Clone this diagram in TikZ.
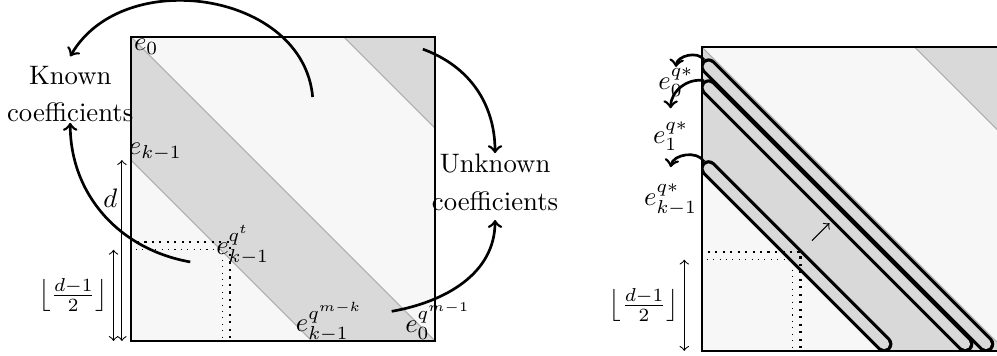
\documentclass[tikz,border=0pt]{standalone}
\usepackage{tikz}
\definecolor{bglight}{gray}{0.97}
\definecolor{bandgray}{gray}{0.85}
\definecolor{edgegray}{gray}{0.68}
\tikzset{
    bigarrow/.style={->, line width=1pt},
    smallarrow/.style={->, line width=1pt},
    strip/.style={double=bandgray, double distance=3.8pt, line width=1.2pt, line cap=round},
    thickdots/.style={thick, dotted},
    thindots/.style={dotted},
    qlabel/.style={inner sep=0pt},
}

\begin{document}
\begin{tikzpicture}
    \useasboundingbox (-1.724,-0.197) rectangle (11.395,4.487);
    \clip (-1.724,-0.197) rectangle (11.395,4.487);
    \foreach \sx/\sy in {0/0, 7.51/-0.13} {
        \begin{scope}[shift={(\sx,\sy)}]
            \fill[bglight] (0,0) rectangle (4,4);
            \fill[bandgray] (0,4) -- (4,0) -- (2.38,0) -- (0,2.38) -- cycle;
            \fill[bandgray] (2.8,4) -- (4,4) -- (4,2.8) -- cycle;
            \draw[edgegray] (0,4) -- (4,0);
            \draw[edgegray] (0,2.38) -- (2.38,0);
            \draw[edgegray] (2.8,4) -- (4,2.8);
        \end{scope}
    }
    \begin{scope}[shift={(7.51,-0.13)}]
        \clip (0,0) rectangle (4,4);
        \foreach \off/\n in {3.83/1, 3.555/2, 2.49/3} {
            \draw[strip] (0.09,\off-0.09) -- (\off-0.09,0.09);
            \coordinate (cap\n) at (0.03,\off);
        }
    \end{scope}
    \foreach \sx/\sy/\m in {0/0/L, 7.51/-0.13/R} {
        \begin{scope}[shift={(\sx,\sy)}]
            \draw[semithick] (0,0) rectangle (4,4);
            \draw[thindots] (0,0) rectangle (1.2,1.2);
            \draw[thickdots] (0,0) rectangle (1.3,1.3);
            \coordinate (flbot\m) at (-0.23,0);
            \coordinate (fltop\m) at (-0.23,1.2);
            \draw[<->] (flbot\m) -- (fltop\m);
            \node (floor\m) at (-0.76,0.6) {$\bigl\lfloor\frac{d-1}{2}\bigr\rfloor$};
        \end{scope}
    }
    \coordinate (dbot) at (-0.12,0);
    \coordinate (dtop) at (-0.12,2.38);
    \draw[<->] (dbot) -- (dtop) node[pos=0.79, left, inner sep=1.5pt] (dlab) {$d$};
    \node (e0) at (0.2,3.87) {$e_0$};
    \node (ek) at (0.32,2.49) {$e_{k-1}$};
    \node (eqt) at (1.47,1.26) {$e^{q^t}_{k-1}$};
    \node (eqmk) at (2.61,0.25) {$e^{q^{m-k}}_{k-1}$};
    \node (eqm) at (4.04,0.26) {$e^{q^{m-1}}_0$};
    \node[align=center] (known) at (-0.8,3.25) {Known\\[2.2pt]coefficients};
    \node[align=center] (unknown) at (4.79,2.09) {Unknown\\[2.2pt]coefficients};
    \coordinate (s1) at (2.39,3.21);
    \coordinate (s2) at (0.78,1.04);
    \coordinate (s3) at (3.84,3.84);
    \coordinate (s4) at (3.43,0.39);
    \draw[bigarrow] (s1) to[out=95, in=60, looseness=1.1] (known.north);
    \draw[bigarrow] (s2) to[out=170, in=-90] ([yshift=3.3pt]known.south);
    \draw[bigarrow] (s3) to[out=-20, in=90] ([yshift=-3.3pt]unknown.north);
    \draw[bigarrow] (s4) to[out=10, in=-90] (unknown.south);
    \begin{scope}[shift={(7.51,-0.13)}]
        \node[qlabel] (e0q) at (-0.34,3.54) {$e^{q*}_0$};
        \node[qlabel] (e1q) at (-0.41,2.82) {$e^{q*}_1$};
        \node[qlabel] (ekq) at (-0.41,1.99) {$e^{q*}_{k-1}$};
        \draw[smallarrow] (cap1) to[bend right=70] (e0q.north);
        \draw[smallarrow] (cap2) to[bend right=50] ([yshift=5pt]e1q.north);
        \draw[smallarrow] (cap3) to[bend right=70] ([yshift=6pt]ekq.north);
        \coordinate (mvfrom) at (1.45,1.45);
        \coordinate (mvto) at (1.68,1.68);
        \draw[->] (mvfrom) -- (mvto);
    \end{scope}
\end{tikzpicture}
\end{document}
